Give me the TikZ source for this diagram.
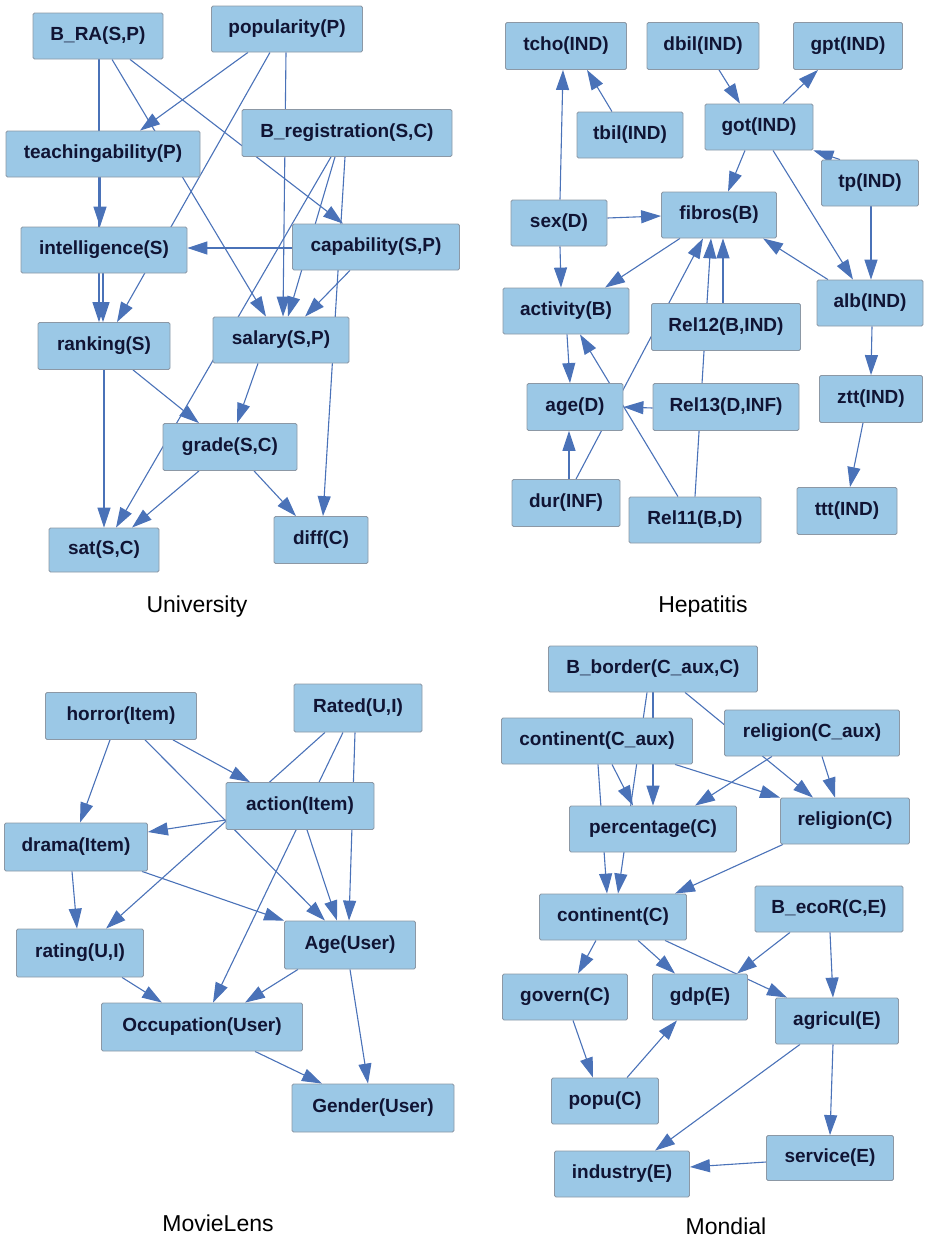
\documentclass[tikz,border=0pt]{standalone}
\usepackage{fontspec}
\setmainfont{Liberation Sans}
\usetikzlibrary{arrows.meta,backgrounds}
\definecolor{boxfill}{RGB}{155,200,230}
\definecolor{boxline}{RGB}{140,152,165}
\definecolor{boxtext}{RGB}{16,20,52}
\definecolor{linkcol}{RGB}{74,114,184}
\tikzset{
  box/.style={draw=boxline, fill=boxfill, rounded corners=1.5pt, text=boxtext,
    font=\bfseries\fontsize{19}{21}\selectfont, inner sep=0pt,
    minimum height=46pt, line width=0.8pt},
  link/.style={draw=linkcol, line width=1.1pt,
    -{Triangle[length=20pt,width=13pt]}},
  caption/.style={font=\fontsize{23}{26}\selectfont, text=black}
}
\begin{document}
\begin{tikzpicture}[x=1pt,y=-1pt]
\useasboundingbox (0,0) rectangle (927,1237);

% ---------------- University ----------------
\node[box,minimum width=130pt] (bra) at (98,36) {B\_RA(S,P)};
\node[box,minimum width=151pt] (pop) at (287,29) {popularity(P)};
\node[box,minimum width=210pt,minimum height=47pt] (breg) at (347,133) {B\_registration(S,C)};
\node[box,minimum width=194pt] (teach) at (103,154) {teachingability(P)};
\node[box,minimum width=166pt] (intel) at (104,250) {intelligence(S)};
\node[box,minimum width=167pt] (capab) at (376,247) {capability(S,P)};
\node[box,minimum width=132pt,minimum height=47pt] (rank) at (104,346) {ranking(S)};
\node[box,minimum width=136pt] (salary) at (281,340) {salary(S,P)};
\node[box,minimum width=134pt,minimum height=47pt] (grade) at (230,447) {grade(S,C)};
\node[box,minimum width=110pt,minimum height=44pt] (sat) at (104,550) {sat(S,C)};
\node[box,minimum width=94pt,minimum height=47pt] (diff) at (321,540) {diff(C)};
\node[caption] (capU) at (197,607) {University};

% ---------------- Hepatitis ----------------
\node[box,minimum width=121pt,minimum height=47pt] (tcho) at (566,46) {tcho(IND)};
\node[box,minimum width=112pt,minimum height=47pt] (dbil) at (703,46) {dbil(IND)};
\node[box,minimum width=109pt,minimum height=47pt] (gpt) at (848,46) {gpt(IND)};
\node[box,minimum width=106pt] (tbil) at (630,135) {tbil(IND)};
\node[box,minimum width=108pt] (got) at (759,127) {got(IND)};
\node[box,minimum width=97pt] (tp) at (870,183) {tp(IND)};
\node[box,minimum width=96pt] (sex) at (559,223) {sex(D)};
\node[box,minimum width=115pt] (fibros) at (719,215) {fibros(B)};
\node[box,minimum width=106pt] (alb) at (870,303) {alb(IND)};
\node[box,minimum width=126pt] (activity) at (566,311) {activity(B)};
\node[box,minimum width=149pt,minimum height=47pt] (rel12) at (726,327) {Rel12(B,IND)};
\node[box,minimum width=96pt,minimum height=47pt] (age) at (575,407) {age(D)};
\node[box,minimum width=146pt,minimum height=47pt] (rel13) at (726,407) {Rel13(D,INF)};
\node[box,minimum width=103pt,minimum height=47pt] (ztt) at (871,399) {ztt(IND)};
\node[box,minimum width=108pt,minimum height=47pt] (dur) at (566,503) {dur(INF)};
\node[box,minimum width=132pt] (rel11) at (695,520) {Rel11(B,D)};
\node[box,minimum width=100pt,minimum height=47pt] (ttt) at (847,511) {ttt(IND)};
\node[caption] (capH) at (703,607) {Hepatitis};

% ---------------- MovieLens ----------------
\node[box,minimum width=151pt,minimum height=47pt] (horror) at (121,716) {horror(Item)};
\node[box,minimum width=128pt,minimum height=48pt] (rated) at (358,708) {Rated(U,I)};
\node[box,minimum width=148pt,minimum height=47pt] (action) at (300,806) {action(Item)};
\node[box,minimum width=143pt,minimum height=48pt] (drama) at (76,847) {drama(Item)};
\node[box,minimum width=131pt,minimum height=48pt] (ageu) at (350,945) {Age(User)};
\node[box,minimum width=127pt,minimum height=48pt] (rating) at (80,953) {rating(U,I)};
\node[box,minimum width=201pt,minimum height=48pt] (occ) at (202,1027) {Occupation(User)};
\node[box,minimum width=162pt,minimum height=48pt] (gender) at (373,1108) {Gender(User)};
\node[caption] (capM) at (218,1223) {MovieLens};

% ---------------- Mondial ----------------
\node[box,minimum width=209pt] (bborder) at (653,669) {B\_border(C\_aux,C)};
\node[box,minimum width=191pt] (contaux) at (597,741) {continent(C\_aux)};
\node[box,minimum width=175pt] (relaux) at (812,733) {religion(C\_aux)};
\node[box,minimum width=167pt] (perc) at (653,829) {percentage(C)};
\node[box,minimum width=129pt] (relc) at (845,821) {religion(C)};
\node[box,minimum width=147pt] (contc) at (613,917) {continent(C)};
\node[box,minimum width=148pt] (becor) at (829,909) {B\_ecoR(C,E)};
\node[box,minimum width=125pt] (govern) at (565,997) {govern(C)};
\node[box,minimum width=95pt] (gdp) at (700,997) {gdp(E)};
\node[box,minimum width=123pt] (agric) at (837,1021) {agricul(E)};
\node[box,minimum width=107pt] (popu) at (605,1101) {popu(C)};
\node[box,minimum width=127pt,minimum height=45pt] (service) at (830,1158) {service(E)};
\node[box,minimum width=135pt] (industry) at (622,1174) {industry(E)};
\node[caption] (capMo) at (726,1226) {Mondial};

\begin{scope}[on background layer]
% University connectors
\draw[link] (100,0 |- teach.south) -- (100,0 |- intel.north);
\draw[link] (99,0 |- bra.south) -- (99,0 |- rank.north);
\draw[link] (103,0 |- intel.south) -- (103,0 |- rank.north);
\draw[link] (248,0 |- pop.south) -- (140,0 |- teach.north);
\draw[link] (270,0 |- pop.south) -- (117,0 |- rank.north);
\draw[link] (112,0 |- bra.south) -- (266,0 |- salary.north);
\draw[link] (130,0 |- bra.south) -- (343,0 |- capab.north);
\draw[link] (286,0 |- pop.south) -- (283,0 |- salary.north);
\draw[link] (331,0 |- breg.south) -- (116,0 |- sat.north);
\draw[link] (335,0 |- breg.south) -- (288,0 |- salary.north);
\draw[link] (345,0 |- breg.south) -- (323,0 |- diff.north);
\draw[link] (350,0 |- capab.south) -- (305,0 |- salary.north);
\draw[link] (capab.west |- 0,248) -- (intel.east |- 0,248);
\draw[link] (258,0 |- salary.south) -- (237,0 |- grade.north);
\draw[link] (133,0 |- rank.south) -- (199,0 |- grade.north);
\draw[link] (104,0 |- rank.south) -- (104,0 |- sat.north);
\draw[link] (199,0 |- grade.south) -- (132,0 |- sat.north);
\draw[link] (254,0 |- grade.south) -- (296,0 |- diff.north);

% Hepatitis connectors
\draw[link] (560,0 |- sex.north) -- (563,0 |- tcho.south);
\draw[link] (612,0 |- tbil.north) -- (587,0 |- tcho.south);
\draw[link] (719,0 |- dbil.south) -- (740,0 |- got.north);
\draw[link] (783,0 |- got.north) -- (818,0 |- gpt.south);
\draw[link] (745,0 |- got.south) -- (728,0 |- fibros.north);
\draw[link] (840,0 |- tp.north) -- (got.south east);
\draw[link] (773,0 |- got.south) -- (853,0 |- alb.north);
\draw[link] (871,0 |- tp.south) -- (871,0 |- alb.north);
\draw[link] (sex.east |- 0,218) -- (fibros.west |- 0,216);
\draw[link] (828,0 |- alb.north) -- (763,0 |- fibros.south);
\draw[link] (560,0 |- sex.south) -- (561,0 |- activity.north);
\draw[link] (680,0 |- fibros.south) -- (605,0 |- activity.north);
\draw[link] (723,0 |- rel12.north) -- (723,0 |- fibros.south);
\draw[link] (695,0 |- rel11.north) -- (711,0 |- fibros.south);
\draw[link] (576,0 |- dur.north) -- (703,0 |- fibros.south);
\draw[link] (567,0 |- activity.south) -- (570,0 |- age.north);
\draw[link] (678,0 |- rel11.north) -- (580,0 |- activity.south);
\draw[link] (rel13.west |- 0,408) -- (age.east |- 0,407);
\draw[link] (569,0 |- dur.north) -- (569,0 |- age.south);
\draw[link] (872,0 |- alb.south) -- (871,0 |- ztt.north);
\draw[link] (863,0 |- ztt.south) -- (850,0 |- ttt.north);

% MovieLens connectors
\draw[link] (110,0 |- horror.south) -- (80,0 |- drama.north);
\draw[link] (173,0 |- horror.south) -- (250,0 |- action.north);
\draw[link] (145,0 |- horror.south) -- (325,0 |- ageu.north);
\draw[link] (325,0 |- rated.south) -- (106,0 |- rating.north);
\draw[link] (343,0 |- rated.south) -- (213,0 |- occ.north);
\draw[link] (355,0 |- rated.south) -- (349,0 |- ageu.north);
\draw[link] (action.west |- 0,820) -- (drama.east |- 0,832);
\draw[link] (307,0 |- action.south) -- (337,0 |- ageu.north);
\draw[link] (142,0 |- drama.south) -- (ageu.north west);
\draw[link] (72,0 |- drama.south) -- (77,0 |- rating.north);
\draw[link] (122,0 |- rating.south) -- (162,0 |- occ.north);
\draw[link] (298,0 |- ageu.south) -- (245,0 |- occ.north);
\draw[link] (350,0 |- ageu.south) -- (368,0 |- gender.north);
\draw[link] (255,0 |- occ.south) -- (322,0 |- gender.north);

% Mondial connectors
\draw[link] (653,0 |- bborder.south) -- (653,0 |- perc.north);
\draw[link] (647,0 |- bborder.south) -- (618,0 |- contc.north);
\draw[link] (598,0 |- contaux.south) -- (607,0 |- contc.north);
\draw[link] (612,0 |- contaux.south) -- (633,0 |- perc.north);
\draw[link] (675,0 |- contaux.south) -- (relc.north west);
\draw[link] (772,0 |- relaux.south) -- (695,0 |- perc.north);
\draw[link] (685,0 |- bborder.south) -- (813,0 |- relc.north);
\draw[link] (822,0 |- relaux.south) -- (835,0 |- relc.north);
\draw[link] (783,0 |- relc.south) -- (675,0 |- contc.north);
\draw[link] (596,0 |- contc.south) -- (578,0 |- govern.north);
\draw[link] (638,0 |- contc.south) -- (675,0 |- gdp.north);
\draw[link] (665,0 |- contc.south) -- (787,0 |- agric.north);
\draw[link] (790,0 |- becor.south) -- (737,0 |- gdp.north);
\draw[link] (830,0 |- becor.south) -- (833,0 |- agric.north);
\draw[link] (573,0 |- govern.south) -- (593,0 |- popu.north);
\draw[link] (627,0 |- popu.north) -- (677,0 |- gdp.south);
\draw[link] (833,0 |- agric.south) -- (830,0 |- service.north);
\draw[link] (800,0 |- agric.south) -- (655,0 |- industry.north);
\draw[link] (service.west |- 0,1162) -- (industry.east |- 0,1167);
\end{scope}
\end{tikzpicture}
\end{document}
